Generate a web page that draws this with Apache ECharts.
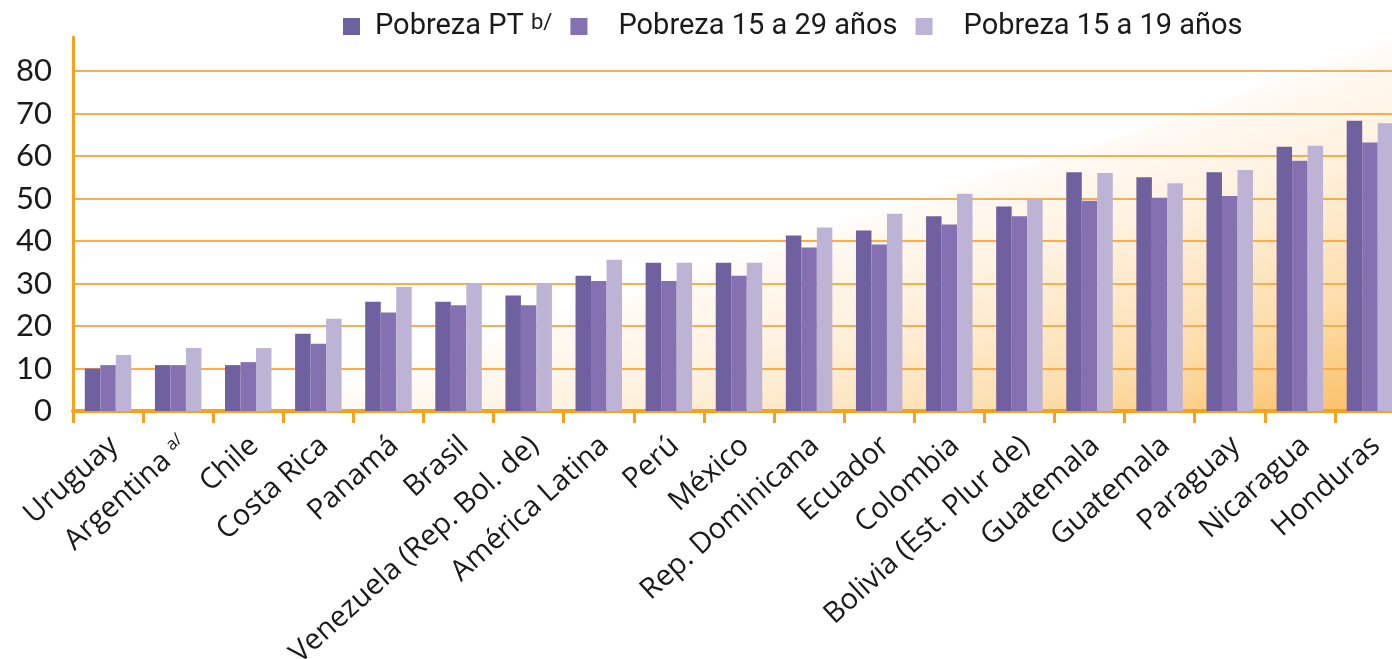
<!DOCTYPE html>
<html>
<head>
<meta charset="utf-8">
<script src="https://cdn.jsdelivr.net/npm/echarts@6/dist/echarts.min.js"></script>
<style>
  html, body { margin: 0; padding: 0; background: #fff; }
  #chart { width: 1392px; height: 659px; }
</style>
</head>
<body>
<div id="chart"></div>
<script>
// datos
var paises = ['Uruguay', 'Argentina', 'Chile', 'Costa Rica', 'Panamá', 'Brasil',
    'Venezuela (Rep. Bol. de)', 'América Latina', 'Perú', 'México', 'Rep. Dominicana',
    'Ecuador', 'Colombia', 'Bolivia (Est. Plur de)', 'Guatemala', 'Guatemala',
    'Paraguay', 'Nicaragua', 'Honduras'];
var pobrezaPT = [10.0, 10.8, 10.8, 18.2, 25.7, 25.7, 27.2, 31.8, 34.9, 34.9, 41.3, 42.5, 45.8, 48.1, 56.2, 55.0, 56.2, 62.2, 68.3];
var pobreza1529 = [10.8, 10.8, 11.5, 15.8, 23.2, 24.9, 24.9, 30.6, 30.6, 31.8, 38.5, 39.2, 43.9, 45.8, 49.5, 50.2, 50.6, 58.9, 63.2];
var pobreza1519 = [13.2, 14.8, 14.8, 21.7, 29.2, 30.0, 30.0, 35.6, 34.9, 34.9, 43.2, 46.4, 51.1, 49.8, 56.0, 53.6, 56.7, 62.4, 67.7];
var nombres = ['Pobreza PT', 'Pobreza 15 a 29 años', 'Pobreza 15 a 19 años'];
var colores = ['#6f60a0', '#8571b2', '#bdb4d5'];
var naranja = '#f7a11c';

var myChart = echarts.init(document.getElementById('chart'));

var serie = function (i, datos) {
    return {
        name: nombres[i],
        type: 'bar',
        data: datos,
        barWidth: 15.5,
        barGap: '0%',
        itemStyle: { color: colores[i] }
    };
};

var option = {
    animation: false,
    // fondo degradado naranja
    graphic: [{
        type: 'polygon',
        z: -1,
        silent: true,
        shape: {
            points: [[73, 315], [400, 281], [550, 256], [770, 223], [900, 196], [1000, 172],
                [1100, 145], [1227, 100], [1300, 68], [1392, 26], [1392, 411], [73, 411]]
        },
        style: {
            fill: {
                type: 'linear', x: 300, y: 400, x2: 410, y2: 730, global: true,
                colorStops: [
                    { offset: 0, color: '#ffffff' },
                    { offset: 0.04, color: '#fffaf4' },
                    { offset: 0.27, color: '#fff2e0' },
                    { offset: 0.46, color: '#fee8c8' },
                    { offset: 0.67, color: '#fddeac' },
                    { offset: 0.96, color: '#fbc36e' },
                    { offset: 1, color: '#fbbf66' }
                ]
            }
        }
    }],
    legend: {
        left: 343,
        top: 12,
        padding: 0,
        itemWidth: 17,
        itemHeight: 17,
        itemGap: 18,
        icon: 'rect',
        data: nombres,
        formatter: function (name) {
            if (name === 'Pobreza PT') {
                return '{s1| }' + name + ' {sup|b/}';
            }
            return '{s2| }' + name;
        },
        textStyle: {
            fontFamily: 'Roboto',
            fontSize: 29,
            color: '#1a1a1a',
            rich: {
                s1: { width: 10 },
                s2: { width: 26 },
                sup: { fontSize: 22, verticalAlign: 'top', fontFamily: 'Roboto', color: '#1a1a1a' }
            }
        }
    },
    grid: {
        left: 73,
        top: 37,
        bottom: 248,
        width: 1332,
        containLabel: false,
        outerBoundsMode: 'none'
    },
    xAxis: {
        type: 'category',
        data: paises,
        axisLine: { lineStyle: { color: naranja, width: 4 } },
        axisTick: { show: true, interval: 0, length: 12, lineStyle: { color: naranja, width: 3 } },
        axisLabel: {
            interval: 0,
            rotate: 42,
            margin: 36,
            padding: [0, -8, 0, 0],
            fontFamily: 'Open Sans',
            fontSize: 29,
            color: '#1a1a1a',
            formatter: function (v) {
                if (v === 'Argentina') return v + ' {sup|a/}';
                return v;
            },
            rich: {
                sup: { fontSize: 17, verticalAlign: 'top', fontFamily: 'Open Sans', color: '#1a1a1a' }
            }
        }
    },
    yAxis: {
        type: 'value',
        min: 0,
        max: 88,
        interval: 10,
        axisLine: { show: true, lineStyle: { color: naranja, width: 3 } },
        axisTick: { show: false },
        axisLabel: {
            margin: 21,
            fontFamily: 'Lato',
            fontSize: 31,
            color: '#1a1a1a',
            formatter: function (v) {
                return v % 10 === 0 ? v : '';
            }
        },
        splitLine: {
            showMinLine: false,
            showMaxLine: false,
            lineStyle: { color: '#f9ad4c', width: 2 }
        }
    },
    series: [
        serie(0, pobrezaPT),
        serie(1, pobreza1529),
        serie(2, pobreza1519)
    ]
};
myChart.setOption(option);
</script>
</body>
</html>
